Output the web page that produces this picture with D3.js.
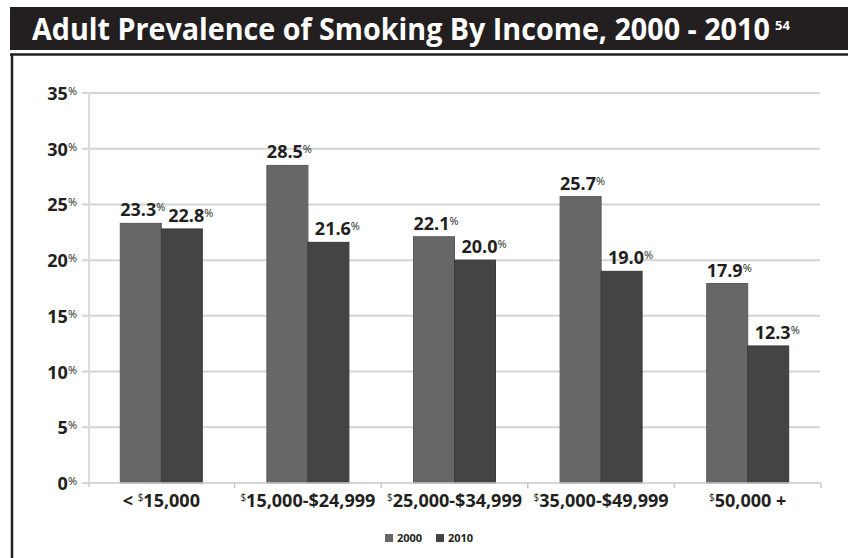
<!DOCTYPE html>
<html>
<head>
<meta charset="utf-8">
<script src="https://cdn.jsdelivr.net/npm/d3@7"></script>
<style>
  body { margin: 0; background: #fff; }
  text { font-family: "Open Sans", sans-serif; font-weight: bold; fill: #231f20; }
</style>
</head>
<body>
<script>
// data
var categories = ["< 15,000", "15,000-$24,999", "25,000-$34,999", "35,000-$49,999", "50,000 +"];
var prefixes = ["< ", "", "", "", ""];        // text before the superscript $
var catTexts = ["15,000", "15,000-$24,999", "25,000-$34,999", "35,000-$49,999", "50,000 +"];
var years = ["2000", "2010"];
var values2000 = [23.3, 28.5, 22.1, 25.7, 17.9];
var values2010 = [22.8, 21.6, 20.0, 19.0, 12.3];
var yTicks = [0, 5, 10, 15, 20, 25, 30, 35];

var W = 848, H = 558;
var colors = { "2000": "#676767", "2010": "#444444" };

var svg = d3.select("body").append("svg")
    .attr("width", W)
    .attr("height", H);

// title bar
svg.append("rect")
    .attr("x", 10).attr("y", 7)
    .attr("width", W - 10).attr("height", 43)
    .attr("fill", "#231f20");

// title squeezed horizontally to look like the condensed face of the original
var title = svg.append("text")
    .style("font-size", "30px")
    .style("fill", "#fff")
    .text("Adult Prevalence of Smoking By Income, 2000 - 2010");
var tw = title.node().getComputedTextLength();
var sx = 738 / tw;
title.attr("transform", "translate(32,40) scale(" + sx + ",1)");
svg.append("text")
    .attr("x", 32 + tw * sx + 5).attr("y", 30)
    .style("font-size", "13px")
    .style("fill", "#fff")
    .text("54");

// frame lines
svg.append("line")
    .attr("x1", 10).attr("x2", W)
    .attr("y1", 54.5).attr("y2", 54.5)
    .attr("stroke", "#231f20").attr("stroke-width", 2.5);
svg.append("line")
    .attr("x1", 12).attr("x2", 12)
    .attr("y1", 54).attr("y2", H)
    .attr("stroke", "#231f20").attr("stroke-width", 2.5);

////////////////////////////////////////////////////////////////////////////////
// scales
var x = d3.scaleBand().domain(categories).range([88, 821]).padding(0);
var y = d3.scaleLinear().domain([0, 35]).range([483, 93]);
var barW = 41;

var g = svg.append("g");

// gridlines
g.selectAll(".grid").data(yTicks.filter(function(d) { return d > 0; }))
  .enter().append("line")
    .attr("class", "grid")
    .attr("x1", 82).attr("x2", 820)
    .attr("y1", function(d) { return y(d); })
    .attr("y2", function(d) { return y(d); })
    .attr("stroke", "#d4d4d4").attr("stroke-width", 2);

// faint y axis
g.append("line")
    .attr("x1", 89).attr("x2", 89)
    .attr("y1", y(35)).attr("y2", y(0) + 4)
    .attr("stroke", "#dcdcdc").attr("stroke-width", 2);

// y tick labels with superscript %
var yl = g.selectAll(".ylab").data(yTicks)
  .enter().append("text")
    .attr("class", "ylab")
    .attr("x", 77)
    .attr("y", function(d) { return y(d) + 7; })
    .attr("text-anchor", "end")
    .style("font-size", "18px");
yl.append("tspan").text(function(d) { return d; });
yl.append("tspan")
    .attr("dy", -5)
    .style("font-size", "11px")
    .style("font-weight", "normal")
    .text("%");

// bars
var series = [values2000, values2010];
years.forEach(function(yr, si) {
  g.selectAll(".bar" + yr).data(series[si])
    .enter().append("rect")
      .attr("x", function(d, i) { return x(categories[i]) + x.bandwidth() / 2 - barW + si * barW; })
      .attr("y", function(d) { return y(d); })
      .attr("width", barW)
      .attr("height", function(d) { return y(0) - y(d); })
      .attr("fill", colors[yr])
      .attr("stroke", d3.color(colors[yr]).darker(0.4))
      .attr("stroke-width", 1);

  var lab = g.selectAll(".lab" + yr).data(series[si])
    .enter().append("text")
      .attr("x", function(d, i) { return x(categories[i]) + x.bandwidth() / 2 - barW / 2 + si * barW + (si ? 9 : 2); })
      .attr("y", function(d) { return y(d) - 7; })
      .attr("text-anchor", "middle")
      .style("font-size", "18px");
  lab.append("tspan").text(function(d) { return d.toFixed(1); });
  lab.append("tspan")
      .attr("dy", -5)
      .style("font-size", "11px")
      .style("font-weight", "normal")
      .text("%");
});

// x axis line and ticks
g.append("line")
    .attr("x1", 82).attr("x2", 821)
    .attr("y1", y(0)).attr("y2", y(0))
    .attr("stroke", "#c8c8c8").attr("stroke-width", 1.5);
g.selectAll(".xtick").data(categories)
  .enter().append("line")
    .attr("x1", function(d) { return x(d) + x.bandwidth(); })
    .attr("x2", function(d) { return x(d) + x.bandwidth(); })
    .attr("y1", y(0)).attr("y2", y(0) + 5)
    .attr("stroke", "#c8c8c8").attr("stroke-width", 1.5);

// category labels with superscript $
var xl = g.selectAll(".xlab").data(categories)
  .enter().append("text")
    .attr("x", function(d) { return x(d) + x.bandwidth() / 2; })
    .attr("y", 507)
    .attr("text-anchor", "middle")
    .style("font-size", "18px");
xl.append("tspan").text(function(d, i) { return prefixes[i]; });
xl.append("tspan")
    .attr("dy", -6)
    .style("font-size", "10px")
    .style("font-weight", "normal")
    .text("$");
xl.append("tspan")
    .attr("dy", 6)
    .text(function(d, i) { return catTexts[i]; });

// legend
var legX = [385, 436];
years.forEach(function(yr, i) {
  svg.append("rect")
      .attr("x", legX[i]).attr("y", 534)
      .attr("width", 8).attr("height", 8)
      .attr("fill", colors[yr]);
  svg.append("text")
      .attr("x", legX[i] + 12).attr("y", 542)
      .style("font-size", "11px")
      .text(yr);
});
</script>
</body>
</html>
